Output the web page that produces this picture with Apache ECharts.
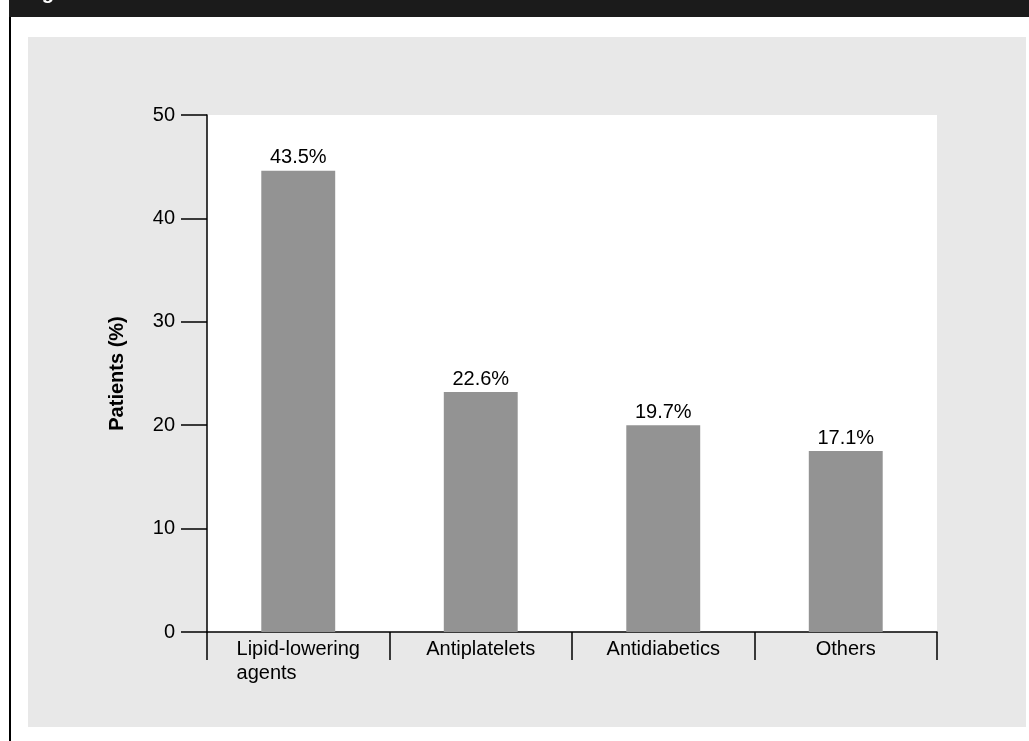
<!DOCTYPE html>
<html>
<head>
<meta charset="utf-8">
<script src="https://cdn.jsdelivr.net/npm/echarts@6/dist/echarts.min.js"></script>
<style>
html,body{margin:0;padding:0;background:#fff;}
#chart{width:1029px;height:741px;}
</style>
</head>
<body>
<div id="chart"></div>
<script>
// Data
var categories = ['Lipid-lowering\nagents', 'Antiplatelets', 'Antidiabetics', 'Others'];
var barValues = [44.6, 23.2, 20.0, 17.5];
var barLabels = ['43.5%', '22.6%', '19.7%', '17.1%'];
var yTicks = [0, 10, 20, 30, 40, 50];
var yAxisTitle = 'Patients (%)';
var figureTitle = 'Figure 1';

var FONT = '"Liberation Sans", Arial, Helvetica, sans-serif';
var chart = echarts.init(document.getElementById('chart'), null, {renderer: 'canvas'});

var option = {
  backgroundColor: '#ffffff',
  animation: false,
  textStyle: {fontFamily: FONT},
  graphic: [
    {type: 'rect', z: -10, shape: {x: 28, y: 37, width: 998, height: 690}, style: {fill: '#e8e8e8'}},
    {type: 'rect', z: -10, shape: {x: 9, y: 0, width: 2, height: 741}, style: {fill: '#000'}},
    {type: 'rect', z: -10, shape: {x: 9, y: 0, width: 1020, height: 17}, style: {fill: '#1b1b1b'}},
    {type: 'text', z: -9, x: 24, y: 3, style: {text: figureTitle, fill: '#fff', font: 'bold 20px ' + FONT, verticalAlign: 'bottom', align: 'left'}}
  ],
  grid: {
    left: 207, right: 92, top: 115, bottom: 109,
    show: true, backgroundColor: '#ffffff', borderWidth: 0
  },
  xAxis: {
    type: 'category',
    data: categories,
    axisLine: {lineStyle: {color: '#000', width: 1.5}},
    axisTick: {show: true, alignWithLabel: false, length: 28, lineStyle: {color: '#000', width: 1.5}},
    axisLabel: {
      color: '#000',
      fontSize: 20,
      margin: 5,
      interval: 0,
      formatter: function (v) {
        return v.split('\n').map(function (s) { return '{l|' + s + '}'; }).join('\n');
      },
      rich: {l: {align: 'left', fontSize: 20, lineHeight: 24, color: '#000', fontFamily: FONT}}
    },
    splitLine: {show: false}
  },
  yAxis: {
    type: 'value',
    min: yTicks[0],
    max: yTicks[yTicks.length - 1],
    interval: 10,
    name: yAxisTitle,
    nameLocation: 'middle',
    nameGap: 80,
    nameRotate: 90,
    nameTextStyle: {color: '#000', fontSize: 20, fontWeight: 'bold', fontFamily: FONT},
    axisLine: {show: true, lineStyle: {color: '#000', width: 1.5}},
    axisTick: {show: true, inside: false, length: 26, lineStyle: {color: '#000', width: 1.5}},
    axisLabel: {color: '#000', fontSize: 20, margin: 32},
    splitLine: {show: false}
  },
  series: [{
    type: 'bar',
    data: barValues,
    barWidth: '40.5%',
    itemStyle: {color: '#939393'},
    label: {
      show: true,
      position: 'top',
      distance: 3,
      color: '#000',
      fontSize: 20,
      fontFamily: FONT,
      formatter: function (p) { return barLabels[p.dataIndex]; }
    }
  }]
};
chart.setOption(option);
</script>
</body>
</html>
